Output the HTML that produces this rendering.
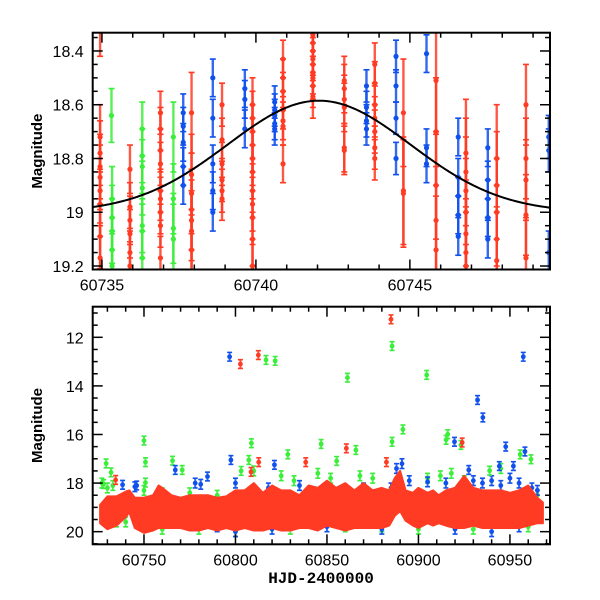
<!DOCTYPE html>
<html><head><meta charset="utf-8"><style>
html,body{margin:0;padding:0;background:#fff;}
svg{display:block;font-family:"Liberation Sans",sans-serif;}
</style></head><body>
<svg id="chart" width="600" height="600" viewBox="0 0 600 600"></svg>
<script>
// ---------- data ----------
const topRedCols = [
 [60734.94,0.12,[18.30,18.72,18.78,18.83,18.87,18.92,18.97,19.09,19.17]],
 [60735.91,0.09,[18.84,18.98,19.03,19.08,19.15,19.20]],
 [60736.90,0.08,[18.63,18.69,18.77,18.82,18.92,18.95,19.00,19.05,19.17]],
 [60737.91,0.15,[18.63,18.86,18.93,18.99,19.03,19.07,19.14]],
 [60738.90,0.08,[18.60,18.73,18.82,18.88,18.92,18.95]],
 [60739.89,0.10,[18.60,18.65,18.70,18.75,18.80,18.85,18.92,18.97,19.02,19.10,19.20]],
 [60740.88,0.07,[18.43,18.50,18.55,18.62,18.66,18.68,18.82]],
 [60741.85,0.08,[18.34,18.37,18.40,18.43,18.45,18.48,18.50,18.53,18.57]],
 [60742.87,0.09,[18.51,18.54,18.58,18.61,18.76,18.77]],
 [60743.86,0.08,[18.45,18.52,18.60,18.65,18.70,18.76,18.80]],
 [60744.79,0.20,[18.63,18.92,18.93]],
 [60745.85,0.20,[18.51,18.70,18.90,19.03,19.14]],
 [60746.82,0.20,[18.78,18.85,18.92,19.00,19.08,19.15,19.20]],
 [60747.82,0.20,[18.80,18.90,19.00,19.10,19.18]],
 [60748.77,0.15,[18.60,18.80,18.88,19.01,19.17]]
];
const topGreenCols = [
 [60735.31,0.10,[18.64]],
 [60735.33,0.12,[18.95,19.02,19.07,19.14,19.20]],
 [60736.31,0.10,[18.69,18.79,18.83,18.91,19.05,19.07,19.17]],
 [60737.32,0.13,[18.72,18.95,19.06,19.10]]
];
const topBlueCols = [
 [60737.64,0.07,[18.63,18.68,18.74,18.83,18.90]],
 [60738.60,0.07,[18.50,18.65,18.82,18.92,19.00]],
 [60739.64,0.07,[18.54,18.58,18.69]],
 [60740.61,0.06,[18.59,18.62,18.64,18.67,18.69]],
 [60743.59,0.06,[18.53,18.61,18.66,18.69]],
 [60744.55,0.06,[18.42,18.53,18.65,18.80]],
 [60745.54,0.07,[18.41,18.76,18.82]],
 [60746.57,0.07,[18.72,18.87,18.94,19.01,19.09]],
 [60747.53,0.07,[18.76,18.88,18.95,19.02,19.10]],
 [60749.51,0.08,[18.72,18.77,19.15]]
];
const modelParams = [60742.05, 19.0, 0.415, 2.97];

const bandT   = [60726,60730,60735,60740,60742,60745,60750,60755,60758,60760,60765,60770,60775,60780,60785,60790,60795,60800,60805,60810,60815,60820,60825,60830,60835,60840,60845,60850,60855,60860,60865,60870,60875,60880,60884,60887,60890,60893,60897,60900,60905,60908,60911,60915,60920,60925,60930,60935,60940,60945,60950,60955,60960,60965,60968];
const bandTop = [18.9,18.55,18.55,18.35,18.3,18.6,18.6,18.5,18.1,18.2,18.5,18.6,18.5,18.5,18.5,18.6,18.55,18.3,18.3,18.0,18.4,18.1,18.3,18.3,18.5,18.1,18.2,17.9,18.2,18.0,18.3,18.0,18.3,18.2,18.3,17.8,17.5,18.3,18.4,18.2,18.4,18.3,18.5,18.3,18.2,17.7,18.2,18.3,18.3,18.3,18.4,18.3,18.1,18.6,18.8];
const bandBot = [19.65,19.9,19.75,19.4,19.2,19.85,20.05,19.95,19.85,19.85,19.85,19.85,19.95,19.95,19.85,19.95,19.85,19.95,19.85,19.95,19.95,19.85,19.95,19.95,19.85,19.85,19.95,19.75,19.85,19.95,19.85,19.85,19.85,19.85,19.75,19.35,19.15,19.55,19.75,19.85,19.65,19.75,19.65,19.75,19.85,19.85,19.75,19.85,19.85,19.85,19.85,19.85,19.75,19.65,19.65];

const nearBlueT = [60745,60778,60781,60800,60818,60835,60852,60870,60885,60888,60891,60895,60905,60915,60930,60935,60940,60945,60950,60955,60962,60965,60790,60800,60820,60850,60880,60920,60940,60955];
const nearBlueM = [18.15,18.0,18.05,18.0,18.2,18.1,18.3,18.2,18.2,17.4,17.2,17.9,17.95,18.0,17.9,18.0,17.9,18.1,17.8,18.0,18.2,18.3,19.8,20.0,19.9,19.8,19.9,19.9,20.0,19.8];
const nearGreenT = [60727,60730,60733,60740,60750,60760,60775,60790,60810,60825,60832,60845,60852,60868,60875,60890,60905,60912,60918,60925,60945,60965,60735,60760,60780,60800,60830,60860,60880,60900,60930,60960];
const nearGreenM = [18.0,18.2,18.1,19.6,18.3,18.4,18.4,18.5,17.5,17.7,17.9,17.6,17.8,17.7,17.8,17.9,17.8,17.7,17.6,17.9,17.4,18.5,19.6,19.9,19.9,20.0,19.9,19.8,19.8,19.9,19.9,19.8];

const outBlueT = [60796.8,60957.3,60932.3,60935.2,60919.7,60947.7,60958.2,60797.5,60767.1,60784.7,60951.9,60927.5,60821.3,60738.3,60746.0,60944.2];
const outBlueM = [12.8,12.8,14.58,15.3,16.3,16.5,16.7,17.05,17.46,17.73,17.3,17.46,17.25,18.07,18.1,17.3];
const outRedT = [60885.0,60802.7,60812.5,60923.9,60860.6,60812.7,60838.4,60882.5,60734.5,60808.5];
const outRedM = [11.26,13.1,12.73,16.33,16.57,17.14,17.14,17.14,17.87,17.54];
const outGreenT = [60885.6,60816.7,60821.7,60861.2,60904.5,60891.5,60916.0,60915.1,60750.0,60808.7,60846.8,60885.6,60923.2,60865.8,60828.6,60955.6,60961.5,60750.8,60729.3,60807.3,60855.3,60765.6,60770.9,60732.0,60803.1,60938.9,60727.9,60750.8];
const outGreenM = [12.36,12.93,12.97,13.66,13.55,15.79,15.99,16.22,16.25,16.36,16.39,16.30,16.43,16.64,16.82,16.82,17.02,17.14,17.19,17.05,17.09,17.08,17.46,17.56,17.50,17.49,18.04,17.98];

const topXTicks = [60735,60740,60745];
const topYTicks = [18.4,18.6,18.8,19,19.2];
const botXTicks = [60750,60800,60850,60900,60950];
const botYTicks = [12,14,16,18,20];

// ---------- drawing ----------
const NS='http://www.w3.org/2000/svg';
const svg=document.getElementById('chart');
function mk(tag,attrs,parent){const e=document.createElementNS(NS,tag);for(const k in attrs)e.setAttribute(k,attrs[k]);(parent||svg).appendChild(e);return e;}
const RED='#ff3b24',GREEN='#3aee3a',BLUE='#1050ec';

const pTop={x0:92.7,x1:550,y0:32.7,y1:269.5,tmin:60734.70,tmax:60749.55,mmin:18.332,mmax:19.213};
const pBot={x0:92.7,x1:550,y0:306.7,y1:544.3,tmin:60721.97,tmax:60971.9,mmin:10.74,mmax:20.52};
function X(p,t){return p.x0+(t-p.tmin)/(p.tmax-p.tmin)*(p.x1-p.x0);}
function Y(p,m){return p.y0+(m-p.mmin)/(p.mmax-p.mmin)*(p.y1-p.y0);}

const defs=mk('defs',{});
[['clipTop',pTop],['clipBot',pBot]].forEach(([id,p])=>{const c=mk('clipPath',{id:id},defs);mk('rect',{x:p.x0,y:p.y0,width:p.x1-p.x0,height:p.y1-p.y0},c);});

function errPoint(p,g,t,m,e,col,r,cap,sw){
  const x=X(p,t),ya=Y(p,m-e),yb=Y(p,m+e),y=Y(p,m);
  const grp=mk('g',{},g);
  
  
  mk('line',{x1:x,y1:ya,x2:x,y2:yb,stroke:col,'stroke-width':sw,'stroke-opacity':0.85},grp);
  mk('line',{x1:x-cap,y1:ya,x2:x+cap,y2:ya,stroke:col,'stroke-width':1.6},grp);
  mk('line',{x1:x-cap,y1:yb,x2:x+cap,y2:yb,stroke:col,'stroke-width':1.6},grp);
  mk('circle',{cx:x,cy:y,r:r,fill:col},grp);
}

function axes(p,xt,xMinorStep,yt,yMinorStep,name){
  const g=mk('g',{});
  
  
  const xs=Math.ceil(p.tmin/xMinorStep-1e-9);
  for(let k=xs;k*xMinorStep<=p.tmax;k++){
    const t=k*xMinorStep;const x=X(p,t);const major=xt.some(v=>Math.abs(v-t)<1e-6);const L=major?10:5;
    mk('line',{x1:x,y1:p.y1,x2:x,y2:p.y1-L,stroke:'#000','stroke-width':1.5},g);
    mk('line',{x1:x,y1:p.y0,x2:x,y2:p.y0+L,stroke:'#000','stroke-width':1.5},g);
  }
  const ys=Math.ceil(p.mmin/yMinorStep-1e-6);
  for(let k=ys;k*yMinorStep<=p.mmax+1e-9;k++){
    const m=k*yMinorStep;const y=Y(p,m);const major=yt.some(v=>Math.abs(v-m)<1e-6);const L=major?10:5;
    mk('line',{x1:p.x0,y1:y,x2:p.x0+L,y2:y,stroke:'#000','stroke-width':1.5},g);
    mk('line',{x1:p.x1,y1:y,x2:p.x1-L,y2:y,stroke:'#000','stroke-width':1.5},g);
  }
  mk('rect',{x:p.x0,y:p.y0,width:p.x1-p.x0,height:p.y1-p.y0,fill:'none',stroke:'#000','stroke-width':2},g);
  xt.forEach(t=>{const tx=mk('text',{x:X(p,t),y:p.y1+21,'text-anchor':'middle','font-size':16,fill:'#000'},g);tx.textContent=String(t);
    });
  yt.forEach(m=>{const tx=mk('text',{x:p.x0-9,y:Y(p,m)+6,'text-anchor':'end','font-size':16,fill:'#000'},g);tx.textContent=String(m);
    });
  const yl=mk('text',{x:0,y:0,transform:`translate(42,${(p.y0+p.y1)/2}) rotate(-90)`,'text-anchor':'middle','font-size':15,'font-weight':'bold',fill:'#000'},g);
  yl.textContent='Magnitude';
  
  
}

// ---- top panel ----
const gTop=mk('g',{'clip-path':'url(#clipTop)'});


function drawCols(cols,col){cols.forEach(c=>c[2].forEach(m=>errPoint(pTop,gTop,c[0],m,c[1],col,2.6,3,2.4)));}
drawCols(topGreenCols,GREEN);
drawCols(topRedCols,RED);
drawCols(topBlueCols,BLUE);
let d='';
for(let i=0;i<=300;i++){const t=pTop.tmin+(pTop.tmax-pTop.tmin)*i/300;const dt=t-modelParams[0];
  const m=modelParams[1]-modelParams[2]*Math.exp(-dt*dt/(2*modelParams[3]*modelParams[3]));
  d+=(i?'L':'M')+X(pTop,t).toFixed(2)+','+Y(pTop,m).toFixed(2);}
const curve=mk('path',{d:d,fill:'none',stroke:'#000','stroke-width':2},gTop);


axes(pTop,topXTicks,1,topYTicks,0.05,'top');

// ---- bottom panel ----
const gBot=mk('g',{'clip-path':'url(#clipBot)'});


nearGreenT.forEach((t,i)=>errPoint(pBot,gBot,t,nearGreenM[i],0.2,GREEN,2.4,2.5,2));
nearBlueT.forEach((t,i)=>errPoint(pBot,gBot,t,nearBlueM[i],0.2,BLUE,2.4,2.5,2));
let pts=[];
for(let i=0;i<bandT.length;i++)pts.push(X(pBot,bandT[i]).toFixed(1)+','+Y(pBot,bandTop[i]).toFixed(1));
for(let i=bandT.length-1;i>=0;i--)pts.push(X(pBot,bandT[i]).toFixed(1)+','+Y(pBot,bandBot[i]).toFixed(1));
const bandPoly=mk('polygon',{points:pts.join(' '),fill:RED,stroke:RED,'stroke-width':2,'stroke-linejoin':'round'},gBot);


outGreenT.forEach((t,i)=>errPoint(pBot,gBot,t,outGreenM[i],0.18,GREEN,2.4,2.5,2));
outBlueT.forEach((t,i)=>errPoint(pBot,gBot,t,outBlueM[i],0.18,BLUE,2.4,2.5,2));
outRedT.forEach((t,i)=>errPoint(pBot,gBot,t,outRedM[i],0.18,RED,2.4,2.5,2));
axes(pBot,botXTicks,10,botYTicks,0.5,'bottom');
const xl=mk('text',{x:321,y:583,'text-anchor':'middle','font-size':16,'font-weight':'bold',fill:'#000','font-family':'Liberation Mono, monospace'});
xl.textContent='HJD-2400000';


</script>
</body></html>
